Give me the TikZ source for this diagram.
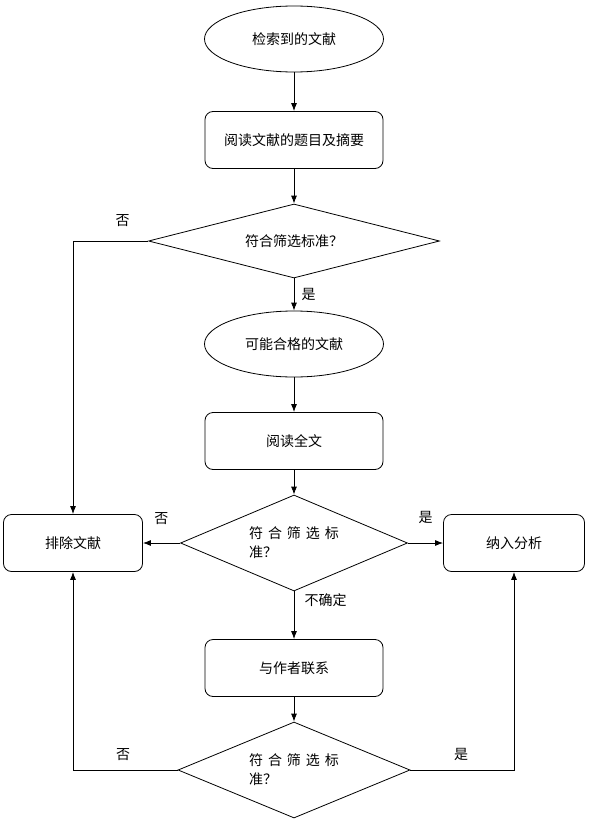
\documentclass[tikz,border=0pt]{standalone}
\usepackage{fontspec}
\setmainfont{Noto Sans CJK SC}
\usetikzlibrary{arrows,arrows.meta,shapes,positioning}
\newcommand{\cgap}{\hspace{5pt}}
\tikzset{
    doc/.style={
    ellipse,draw=black,minimum width=179pt,minimum height=66pt,inner sep=0pt
    },
    task/.style={
    rectangle,rounded corners=8pt,draw=black,minimum width=178pt,minimum height=57pt
    },
    check/.style={
    diamond,draw=black,aspect=4,inner sep=0pt,minimum width=291pt,minimum height=74pt
    },
    checkw/.style={
    diamond,draw=black,aspect=2.4,inner sep=0pt,align=left
    },
}
\begin{document}
\begin{tikzpicture}[x=1pt, y=-1pt, >={Latex[length=8pt,width=6pt]}, line width=0.8pt, font=\fontsize{14}{19}\selectfont]
   \useasboundingbox (0,0) rectangle (589,824);
   \node[doc] (found) at (294,39) {检索到的文献};
   \node[task] (abstract) at (294,140) {阅读文献的题目及摘要};
   \node[check] (check1) at (294,241) {符合筛选标准？};
   \node[doc] (maybe) at (294,344) {可能合格的文献};
   \node[task] (fulltext) at (294,441) {阅读全文};
   \node[checkw,minimum width=227pt,minimum height=96pt] (check2) at (294,543) {符\cgap 合\cgap 筛\cgap 选\cgap 标\\准？};
   \node[task] (contact) at (294,668) {与作者联系};
   \node[checkw,minimum width=232pt,minimum height=96pt] (check3) at (294,770) {符\cgap 合\cgap 筛\cgap 选\cgap 标\\准？};
   \node[task,minimum width=139pt] (exclude) at (73,543) {排除文献};
   \node[task,minimum width=141pt] (include) at (514,543) {纳入分析};

  \path[->]
    (found) edge (abstract)
    (abstract) edge (check1)
    (check1) edge node [right=4pt] {是} (maybe)
    (maybe) edge (fulltext)
    (fulltext) edge (check2)
    (check2) edge node [pos=0.18,right=7pt] {不确定} (contact)
    (contact) edge (check3)
    (check2) edge node [above=15pt] {否} (exclude)
    (check2) edge node [above=16pt] {是} (include);
  \draw[->] (check1.west) -| node [pos=0.17,above=11pt] {否} (exclude.north);
  \draw[->] (check3.west) -| node [pos=0.26,above=6pt] {否} (exclude.south);
  \draw[->] (check3.east) -| node [pos=0.245,above=6pt] {是} (include.south);
\end{tikzpicture}
\end{document}
